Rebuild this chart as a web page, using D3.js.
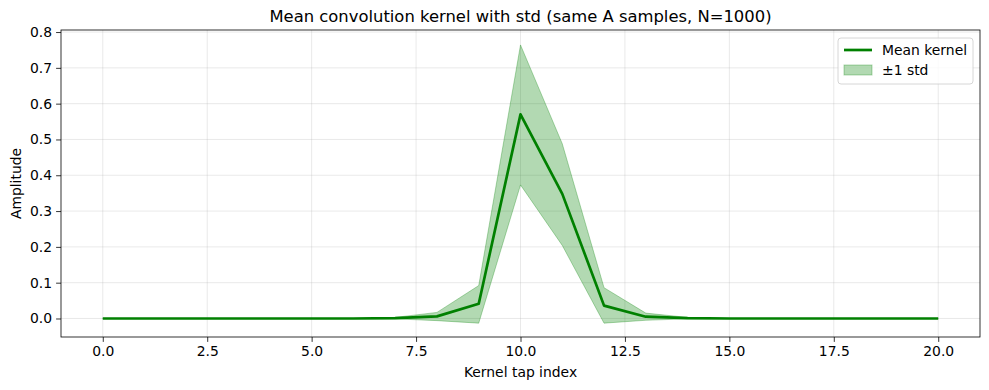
<!DOCTYPE html>
<html>
<head>
<meta charset="utf-8">
<script src="https://cdn.jsdelivr.net/npm/d3@7"></script>
<style>
  body { margin: 0; background: #fff; }
  svg { font-family: "DejaVu Sans", sans-serif; }
</style>
</head>
<body>
<div id="chart"></div>
<script>
// kernel taps 0..20
const taps = d3.range(0, 21);
const meanKernel = [0, 0, 0, 0, 0, 0, 0, 0.001, 0.006, 0.041, 0.570, 0.348, 0.036, 0.005, 0.001, 0, 0, 0, 0, 0, 0];
const upperStd   = [0, 0, 0, 0, 0, 0, 0, 0.003, 0.017, 0.092, 0.764, 0.488, 0.086, 0.015, 0.003, 0, 0, 0, 0, 0, 0];
const lowerStd   = [0, 0, 0, 0, 0, 0, 0, -0.001, -0.006, -0.013, 0.373, 0.204, -0.013, -0.005, -0.001, 0, 0, 0, 0, 0, 0];
const xTicks = [0, 2.5, 5, 7.5, 10, 12.5, 15, 17.5, 20];
const yTicks = [0, 0.1, 0.2, 0.3, 0.4, 0.5, 0.6, 0.7, 0.8];

const width = 989, height = 390;
const margin = { top: 30, right: 9, bottom: 53, left: 61 };

const svg = d3.select('#chart').append('svg')
    .attr('width', width)
    .attr('height', height);

const x = d3.scaleLinear().domain([-1, 21]).range([margin.left, width - margin.right]);
const y = d3.scaleLinear().domain([-0.0517, 0.8057]).range([height - margin.bottom, margin.top]);

// grid
const grid = svg.append('g');
grid.selectAll('.gx').data(xTicks).enter().append('line')
    .attr('x1', d => x(d)).attr('x2', d => x(d))
    .attr('y1', margin.top).attr('y2', height - margin.bottom)
    .attr('stroke', '#b0b0b0').attr('stroke-opacity', 0.35).attr('stroke-width', 0.8);
grid.selectAll('.gy').data(yTicks).enter().append('line')
    .attr('y1', d => y(d)).attr('y2', d => y(d))
    .attr('x1', margin.left).attr('x2', width - margin.right)
    .attr('stroke', '#b0b0b0').attr('stroke-opacity', 0.35).attr('stroke-width', 0.8);

// std band
const band = d3.area()
    .x((d, i) => x(taps[i]))
    .y0((d, i) => y(lowerStd[i]))
    .y1((d, i) => y(upperStd[i]));
svg.append('path')
    .datum(taps)
    .attr('d', band)
    .attr('fill', 'green').attr('fill-opacity', 0.3)
    .attr('stroke', 'green').attr('stroke-opacity', 0.3).attr('stroke-width', 1);

// mean line
const line = d3.line()
    .x((d, i) => x(taps[i]))
    .y((d, i) => y(meanKernel[i]));
svg.append('path')
    .datum(taps)
    .attr('d', line)
    .attr('fill', 'none')
    .attr('stroke', 'green')
    .attr('stroke-width', 2.7)
    .attr('stroke-linejoin', 'round');

// axes
const xAxis = svg.append('g')
    .attr('transform', `translate(0,${height - margin.bottom})`)
    .call(d3.axisBottom(x).tickValues(xTicks).tickFormat(d3.format('.1f')).tickSizeOuter(0).tickSize(4.9).tickPadding(4));
const yAxis = svg.append('g')
    .attr('transform', `translate(${margin.left},0)`)
    .call(d3.axisLeft(y).tickValues(yTicks).tickFormat(d3.format('.1f')).tickSizeOuter(0).tickSize(4.9).tickPadding(4));
[xAxis, yAxis].forEach(a => {
    a.select('.domain').remove();
    a.selectAll('text').attr('font-size', 13.9).attr('fill', '#000').attr('font-family', '"DejaVu Sans", sans-serif');
    a.selectAll('line').attr('stroke', '#000').attr('stroke-width', 0.8);
});

// frame
svg.append('rect')
    .attr('x', margin.left).attr('y', margin.top)
    .attr('width', width - margin.left - margin.right)
    .attr('height', height - margin.top - margin.bottom)
    .attr('fill', 'none').attr('stroke', '#000').attr('stroke-width', 0.8);

// labels
svg.append('text')
    .attr('x', (margin.left + width - margin.right) / 2).attr('y', 22)
    .attr('text-anchor', 'middle').attr('font-size', 16.4)
    .text('Mean convolution kernel with std (same A samples, N=1000)');
svg.append('text')
    .attr('x', (margin.left + width - margin.right) / 2).attr('y', 377)
    .attr('text-anchor', 'middle').attr('font-size', 13.9)
    .text('Kernel tap index');
svg.append('text')
    .attr('transform', `translate(21,${(margin.top + height - margin.bottom) / 2}) rotate(-90)`)
    .attr('text-anchor', 'middle').attr('font-size', 13.9)
    .text('Amplitude');

// legend
const lg = svg.append('g').attr('transform', 'translate(838,38)');
lg.append('rect')
    .attr('width', 135).attr('height', 46).attr('rx', 3)
    .attr('fill', '#fff').attr('fill-opacity', 0.8)
    .attr('stroke', '#ccc').attr('stroke-width', 0.8);
lg.append('line')
    .attr('x1', 6).attr('x2', 34).attr('y1', 12).attr('y2', 12)
    .attr('stroke', 'green').attr('stroke-width', 2.7);
lg.append('text').attr('x', 44).attr('y', 17).attr('font-size', 13.9).text('Mean kernel');
lg.append('rect')
    .attr('x', 6).attr('y', 27).attr('width', 28).attr('height', 10)
    .attr('fill', 'green').attr('fill-opacity', 0.3)
    .attr('stroke', 'green').attr('stroke-opacity', 0.3);
lg.append('text').attr('x', 44).attr('y', 37).attr('font-size', 13.9).text('±1 std');
</script>
</body>
</html>
